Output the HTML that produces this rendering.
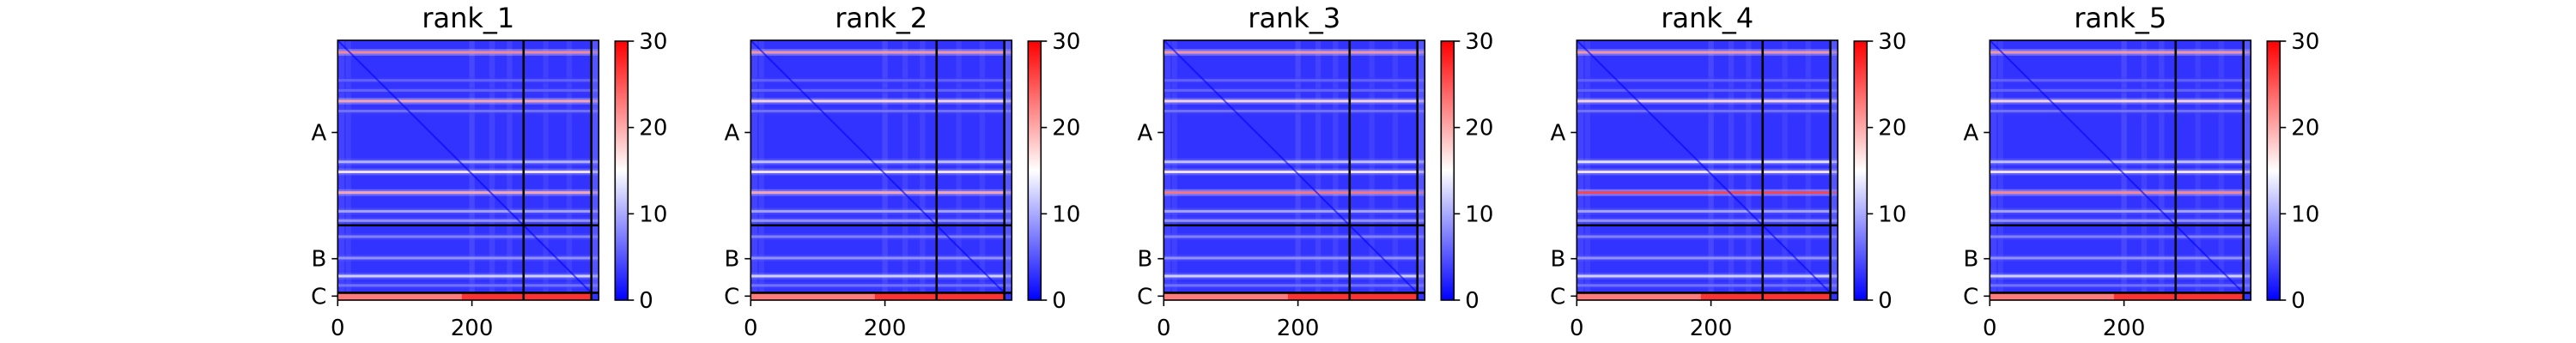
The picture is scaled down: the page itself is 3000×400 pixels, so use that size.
<!DOCTYPE html>
<html><head><meta charset="utf-8"><style>
body{margin:0;background:#fff;}
svg{display:block;font-family:"DejaVu Sans","Liberation Sans",sans-serif;}
</style></head><body>
<svg id="fig" width="3000" height="400" xmlns="http://www.w3.org/2000/svg"></svg>
<script>
const panelNames = ["rank_1","rank_2","rank_3","rank_4","rank_5"];
const bandRows = [18, 91, 106, 60, 75, 182, 197, 228, 256, 270, 294, 326, 353, 367];
const rank1Vals = [22,20,7,6,6,11,16,20,10,9,8,9,13,7];
const rank2Vals = [21,17,7,6,6,12,16,20,10,9,8,9,13,7];
const rank3Vals = [21,17,7,6,6,12,16,23,10,9,8,9,13,7];
const rank4Vals = [21,17,7,6,6,14,16,26,10,9,8,9,13,7];
const rank5Vals = [21,17,7,6,6,12,16,22,10,9,8,9,13,7];
const panelVals = [rank1Vals,rank2Vals,rank3Vals,rank4Vals,rank5Vals];
const colStripes = [6,16,200,230,256,310,345];
const colVals = [8,7,9,8,8,7,7];
const chainBounds = [277,378];
const chainLabels = ["A","B","C"];
const chainCenters = [138,327,383];
const xTicks = [0,200];
const cbTicks = [0,10,20,30];
const N = 389, VMAX = 30, BASE = 3;

const NS = "http://www.w3.org/2000/svg";
const fig = document.getElementById("fig");
function el(tag, attrs, parent){const e=document.createElementNS(NS,tag);for(const k in attrs)e.setAttribute(k,attrs[k]);(parent||fig).appendChild(e);return e;}
function bwr(v){v=Math.max(0,Math.min(VMAX,v));const h=VMAX/2;let r,g,b;
 if(v<=h){const t=v/h;r=t*255;g=t*255;b=255;}else{const t=(v-h)/h;r=255;g=(1-t)*255;b=(1-t)*255;}
 return `rgb(${r|0},${g|0},${b|0})`;}

const defs = el("defs",{});
const grad = el("linearGradient",{id:"cbg",x1:"0",y1:"1",x2:"0",y2:"0"},defs);
for(let i=0;i<=10;i++){el("stop",{offset:(i/10),"stop-color":bwr(i*3)},grad);}

const TOP=47, H=303, W=304, LEFT0=393.3, STEP=481;
panelNames.forEach((name,p)=>{
 const L = LEFT0 + p*STEP;
 const xs = u => L + u*W/N;
 const ys = u => TOP + u*H/N;
 const g = el("g",{});
 
 
 const cp = el("clipPath",{id:"clip"+p},defs);
 el("rect",{x:L,y:TOP,width:W,height:H},cp);
 const hm = el("g",{"clip-path":`url(#clip${p})`},g);
 
 
 el("rect",{x:L,y:TOP,width:W,height:H,fill:bwr(BASE)},hm);
 colStripes.forEach((c,i)=>{
  const r=el("rect",{x:xs(c-4),y:TOP,width:xs(8)-L,height:H,fill:bwr(colVals[i]),opacity:0.2},hm);
  
  
 });
 bandRows.forEach((row,i)=>{
  const v = panelVals[p][i];
  el("rect",{x:L,y:ys(row-5),width:W,height:ys(10)-TOP,fill:bwr(v*0.6),opacity:0.35},hm);
  const r=el("rect",{x:L,y:ys(row-2),width:W,height:ys(4)-TOP,fill:bwr(v),opacity:0.9},hm);
  
  
 });
 el("rect",{x:L,y:ys(378),width:W,height:ys(11)-TOP,fill:bwr(27)},hm);
 el("rect",{x:L,y:ys(378),width:xs(185)-L,height:ys(11)-TOP,fill:bwr(20),opacity:0.6},hm);
 el("rect",{x:xs(378),y:TOP,width:xs(11)-L,height:ys(378)-TOP,fill:bwr(7),opacity:0.5},hm);
 el("rect",{x:xs(378),y:ys(378),width:xs(11)-L,height:ys(11)-TOP,fill:bwr(3)},hm);
 const d=el("line",{x1:xs(0),y1:ys(0),x2:xs(378),y2:ys(378),stroke:"#0000ff","stroke-width":2,opacity:0.6},hm);
 
 
 chainBounds.forEach(b=>{
  const v=el("line",{x1:xs(b),y1:TOP,x2:xs(b),y2:TOP+H,stroke:"#000","stroke-width":2.6},g);
  
  
  const h=el("line",{x1:L,y1:ys(b),x2:L+W,y2:ys(b),stroke:"#000","stroke-width":2.6},g);
  
  
 });
 el("rect",{x:L,y:TOP,width:W,height:H,fill:"none",stroke:"#000","stroke-width":1.6},g);
 const t=el("text",{x:L+W/2,y:32,"font-size":32,"text-anchor":"middle",fill:"#000"},g);
 t.textContent=name;
 
 
 xTicks.forEach(v=>{
  el("line",{x1:xs(v),y1:TOP+H,x2:xs(v),y2:TOP+H+7,stroke:"#000","stroke-width":1.6},g);
  const tx=el("text",{x:xs(v),y:391,"font-size":26,"text-anchor":"middle"},g);
  tx.textContent=v;
  
  
 });
 chainLabels.forEach((c,i)=>{
  el("line",{x1:L-7,y1:ys(chainCenters[i]),x2:L,y2:ys(chainCenters[i]),stroke:"#000","stroke-width":1.6},g);
  const ty=el("text",{x:L-13,y:ys(chainCenters[i])+9,"font-size":26,"text-anchor":"end"},g);
  ty.textContent=c;
  
  
 });
 const CBX=L+323, CBW=15;
 const cb=el("rect",{x:CBX,y:TOP+1,width:CBW,height:H-1,fill:"url(#cbg)",stroke:"#000","stroke-width":1.6},g);
 
 
 cbTicks.forEach(v=>{
  const yy=TOP+H-(v/VMAX)*(H-1);
  el("line",{x1:CBX+CBW,y1:yy,x2:CBX+CBW+7,y2:yy,stroke:"#000","stroke-width":1.6},g);
  const tl=el("text",{x:CBX+CBW+13,y:yy+9,"font-size":26},g);
  tl.textContent=v;
  
  
 });
});
</script>
</body></html>
